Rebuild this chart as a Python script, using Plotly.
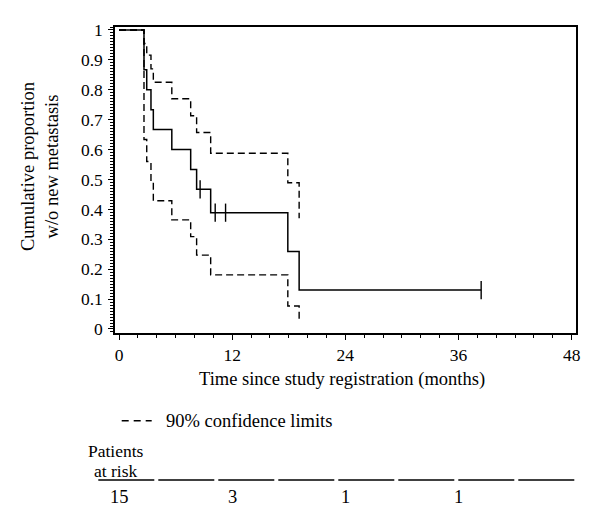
import plotly.graph_objects as go

# ---- data ----
km_time = [0, 2.65, 2.94, 3.39, 3.64, 5.6, 7.6, 8.23, 9.72, 17.9, 19.1, 38.4]
km_surv = [1.0, 0.867, 0.8, 0.733, 0.667, 0.6, 0.533, 0.467, 0.389, 0.259, 0.130, 0.130]

ci_time = [0, 2.65, 2.94, 3.39, 3.64, 5.6, 7.6, 8.23, 9.72, 17.9, 19.1]
ci_upper = [1.0, 0.955, 0.916, 0.87, 0.825, 0.77, 0.713, 0.657, 0.588, 0.489, 0.37]
ci_lower = [1.0, 0.634, 0.56, 0.49, 0.429, 0.365, 0.309, 0.247, 0.181, 0.077, 0.024]

censor_time = [8.6, 10.2, 11.3, 38.4]
censor_surv = [0.467, 0.389, 0.389, 0.130]

x_ticks = [0, 12, 24, 36, 48]
y_ticks = [0, 0.1, 0.2, 0.3, 0.4, 0.5, 0.6, 0.7, 0.8, 0.9, 1]
y_ticktext = ["0", "0.1", "0.2", "0.3", "0.4", "0.5", "0.6", "0.7", "0.8", "0.9", "1"]

risk_time = [0, 12, 24, 36]
risk_count = [15, 3, 1, 1]

# ---- layout helpers (page body has an 8px default margin) ----
OFF = 8
W, H = 600 - OFF, 527 - OFF
L, R, T, B = 115 - OFF, 576 - OFF, 27 - OFF, 333 - OFF
FONT = "Liberation Serif"
TXT = 18.5


def xp(px):
    return (px - OFF - L) / (R - L)


def yp(py):
    return (B - (py - OFF)) / (B - T)


fig = go.Figure()

dash = "7px,4px"
fig.add_trace(go.Scatter(x=ci_time, y=ci_upper, mode="lines", line_shape="hv",
                         line=dict(color="black", width=1.4, dash=dash),
                         hoverinfo="skip", showlegend=False))
fig.add_trace(go.Scatter(x=ci_time, y=ci_lower, mode="lines", line_shape="hv",
                         line=dict(color="black", width=1.4, dash=dash),
                         hoverinfo="skip", showlegend=False))
fig.add_trace(go.Scatter(x=km_time, y=km_surv, mode="lines", line_shape="hv",
                         line=dict(color="black", width=1.5),
                         showlegend=False))
fig.add_trace(go.Scatter(x=censor_time, y=censor_surv, mode="markers",
                         marker=dict(symbol="line-ns-open", size=13, color="black",
                                     line=dict(color="black", width=1.4)),
                         showlegend=False))

annotations = [
    dict(text="Cumulative proportion<br>w/o new metastasis", x=xp(40), y=yp(167),
         xref="paper", yref="paper", textangle=-90, showarrow=False,
         xanchor="center", yanchor="middle", font=dict(size=TXT)),
    dict(text="Time since study registration (months)", x=xp(341.6), y=yp(380),
         xref="paper", yref="paper", showarrow=False,
         xanchor="center", yanchor="middle", font=dict(size=TXT)),
    dict(text="90% confidence limits", x=xp(164), y=yp(421),
         xref="paper", yref="paper", showarrow=False,
         xanchor="left", yanchor="middle", font=dict(size=TXT)),
    dict(text="Patients", x=xp(116.3), y=yp(450.5),
         xref="paper", yref="paper", showarrow=False,
         xanchor="center", yanchor="middle", font=dict(size=17.5)),
    dict(text="at risk", x=xp(116.3), y=yp(471),
         xref="paper", yref="paper", showarrow=False,
         xanchor="center", yanchor="middle", font=dict(size=17.5)),
]
for t, c in zip(risk_time, risk_count):
    annotations.append(dict(text=str(c), x=t, y=yp(496.7), xref="x", yref="paper",
                            showarrow=False, xanchor="center", yanchor="middle",
                            font=dict(size=TXT)))

shapes = [dict(type="line", xref="paper", yref="paper",
               x0=xp(121.7), x1=xp(151.7), y0=yp(420.7), y1=yp(420.7),
               line=dict(color="black", width=1.4, dash="7px,5px"))]
for i in range(8):
    x0 = 98.3 + 60 * i
    shapes.append(dict(type="line", xref="paper", yref="paper",
                       x0=xp(x0), x1=xp(x0 + 56), y0=yp(480), y1=yp(480),
                       line=dict(color="black", width=1.5)))

fig.update_layout(
    width=W, height=H,
    margin=dict(l=L, r=W - R, t=T, b=H - B, pad=0),
    paper_bgcolor="white", plot_bgcolor="white",
    font=dict(family=FONT, size=17, color="black"),
    annotations=annotations, shapes=shapes,
    showlegend=False,
)

fig.update_xaxes(
    range=[-0.424, 48.456], tickvals=x_ticks, ticks="outside", ticklen=5,
    tickwidth=1.2, tickcolor="black", showline=True, linecolor="black",
    linewidth=1.5, mirror=True, showgrid=False, zeroline=False,
    tickfont=dict(size=17.5),
    minor=dict(dtick=2, tick0=0, ticks="outside", ticklen=3, tickcolor="black",
               tickwidth=1, showgrid=False),
)
fig.update_yaxes(
    range=[-0.0134, 1.010], tickvals=y_ticks, ticktext=y_ticktext,
    ticks="outside", ticklen=5, tickwidth=1.2, tickcolor="black",
    showline=True, linecolor="black", linewidth=1.5, mirror=True,
    showgrid=False, zeroline=False, tickfont=dict(size=17.5),
    ticklabelstandoff=2,
    minor=dict(dtick=0.01, tick0=0, ticks="outside", ticklen=3,
               tickcolor="black", tickwidth=1, showgrid=False),
)

fig.write_html("out.html")
